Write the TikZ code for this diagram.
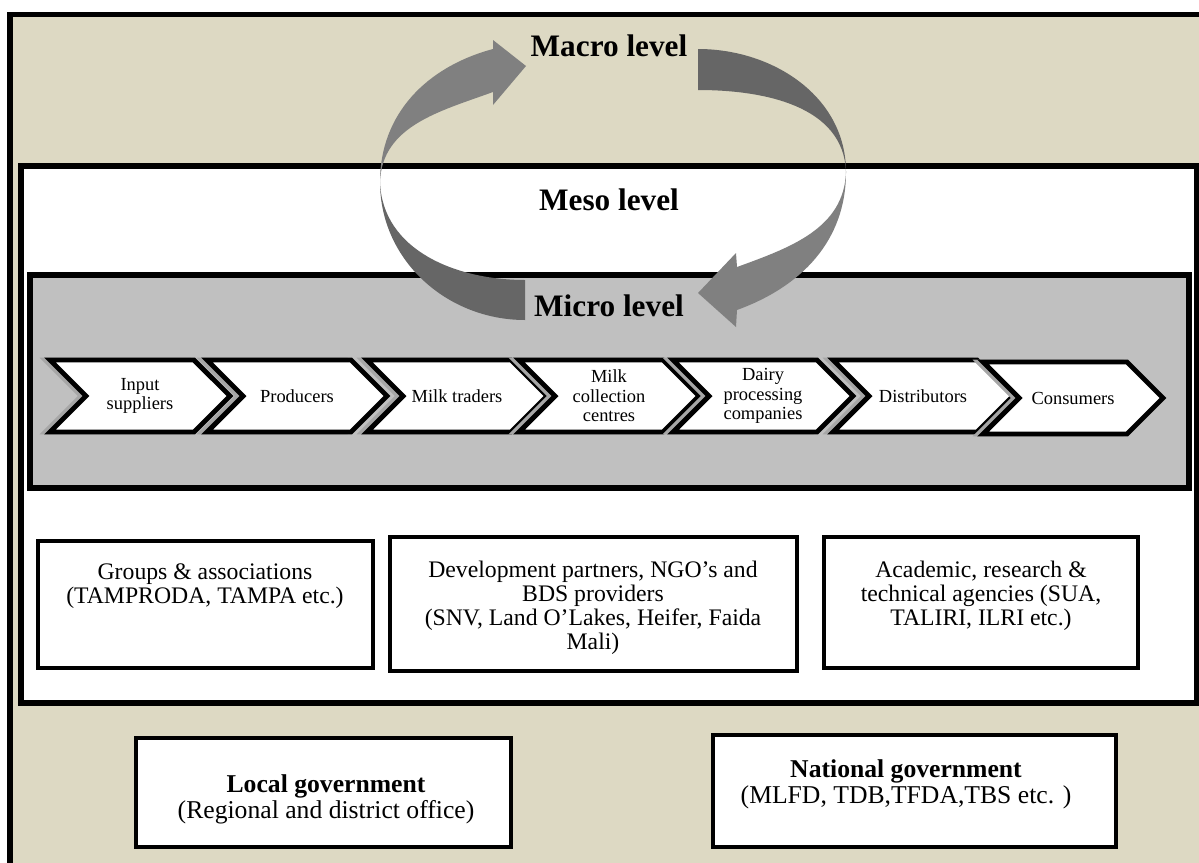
\documentclass[tikz,border=0pt]{standalone}
\usepackage{fontspec}
\setmainfont{Liberation Serif}
\usetikzlibrary{shapes.symbols}
\definecolor{tanbg}{HTML}{DDD9C3}
\definecolor{microbg}{HTML}{C0C0C0}
\definecolor{arrlight}{HTML}{808080}
\definecolor{arrdark}{HTML}{666666}
\begin{document}
\begin{tikzpicture}[x=0.02cm, y=0.02cm,
  frame/.style={draw, line width=2.9pt},
  chev/.style={signal, signal from=west, signal to=east, signal pointer angle=90,
    draw, line width=2.8pt, fill=white, minimum width=3.6cm, minimum height=1.44cm,
    inner sep=0pt, align=center, font=\fontsize{10.5}{11}\selectfont,
    preaction={draw=black!35, line width=2.8pt, transform canvas={xshift=-2.6pt}}},
  box/.style={draw, line width=2.4pt, fill=white},
  boxtext/.style={anchor=north, inner sep=0pt, align=center, font=\fontsize{13.5}{13.6}\selectfont},
  govtext/.style={anchor=north, inner sep=0pt, align=center, font=\fontsize{14.6}{15.2}\selectfont},
  level/.style={font=\fontsize{17.8}{20}\selectfont\bfseries}]
\useasboundingbox (0,0) rectangle (1199,-862);
\clip (0,0) rectangle (1199,-862);
% macro, meso and micro areas
\draw[frame, fill=tanbg] (10,-14.5) rectangle (1215,-880);
\draw[frame, fill=white] (21,-166) rectangle (1197,-703);
\draw[frame, fill=microbg] (30,-275) rectangle (1189,-488);
% value chain
\draw(140,-396) node[chev] (inp) {Input\\suppliers};
\draw(297,-396) node[chev] (prod) {Producers};
\draw(457,-396) node[chev] (trad) {Milk traders};
\draw(609,-396) node[chev] (mcc) {Milk\\collection\\centres};
\draw(763,-396) node[chev] (dpc) {Dairy\\processing\\companies};
\draw(923,-396) node[chev] (dist) {Distributors};
\draw(1073,-398) node[chev] (cons) {Consumers};
% meso level actors
\draw[box] (38,-541) rectangle (373,-668);
\draw(205,-563) node[boxtext] (grp) {Groups \& associations\\(TAMPRODA, TAMPA etc.)};
\draw[box] (390,-537) rectangle (797,-671);
\draw(593,-561) node[boxtext] (dev) {Development partners, NGO’s and\\BDS providers\\(SNV, Land O’Lakes, Heifer, Faida\\Mali)};
\draw[box] (824,-537) rectangle (1138,-668);
\draw(981,-561) node[boxtext] (acad) {Academic, research \&\\technical agencies (SUA,\\TALIRI, ILRI etc.)};
% macro level actors
\draw[box] (136,-738) rectangle (511,-847);
\draw(326,-774) node[govtext] (lg) {\textbf{Local government}\\(Regional and district office)};
\draw[box] (713,-735) rectangle (1116,-847);
\draw(906,-759) node[govtext] (ng) {\textbf{National government}\\(MLFD, TDB,TFDA,TBS etc. )};
% cycle arrows
\fill[arrlight] (380,-182) to[out=90,in=195] (493,-49) -- (493,-40) -- (526,-66)
  -- (493,-105) -- (493,-92) to[out=200,in=88] (380,-182) -- cycle;
\fill[arrdark] (380,-182) to[out=270,in=180] (525,-320) -- (525,-280)
  to[out=180,in=272] (380,-182) -- cycle;
\fill[arrdark] (698,-49) to[out=0,in=90] (846,-172) to[out=92,in=0] (698,-90) -- cycle;
\fill[arrlight] (846,-172) to[out=270,in=20] (737,-310) -- (736,-327) -- (698,-293)
  -- (736,-253) -- (737,-267) to[out=20,in=268] (846,-172) -- cycle;
% level names
\draw(609,-46) node[level] (macro) {Macro level};
\draw(609,-200) node[level] (meso) {Meso level};
\draw(609,-306) node[level] (micro) {Micro level};
\end{tikzpicture}
\end{document}
